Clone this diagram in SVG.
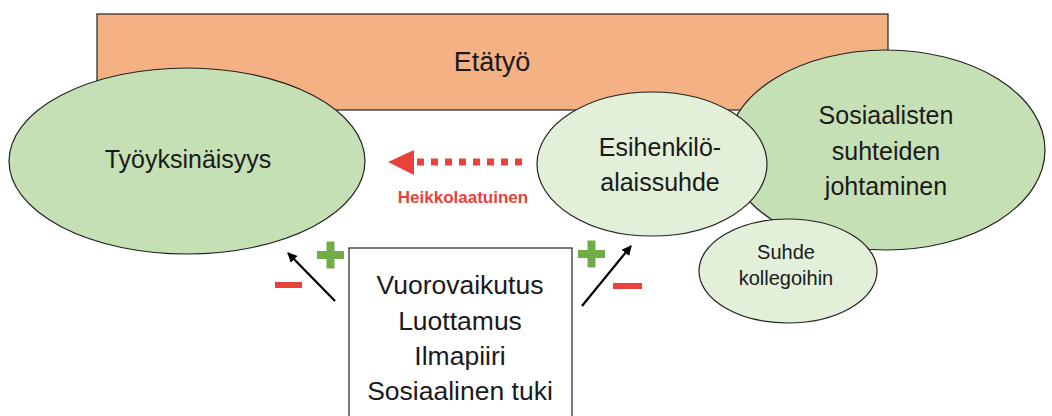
<svg xmlns="http://www.w3.org/2000/svg" width="1052" height="416" viewBox="0 0 1052 416">
<defs>
<style>
.t{font-family:"Liberation Sans",Arial,sans-serif;fill:#1a1a1a;text-anchor:middle;dominant-baseline:central}
.sh{stroke:#222;stroke-width:1.2}
.g1{fill:#c5e0b4}
.g2{fill:#e2f0d9}
.plus{stroke:#70ad47;stroke-width:8}
.minus{stroke:#e8433a;stroke-width:6}
</style>
<marker id="ah" viewBox="0 0 10 10" refX="9" refY="5" markerWidth="4.5" markerHeight="4.5" orient="auto">
<path d="M0,0 L10,5 L0,10 z" fill="#000"/>
</marker>
</defs>
<rect width="1052" height="416" fill="#fff"/>
<g id="etatyo">
<rect x="97" y="14" width="791" height="96" fill="#f4b183" class="sh"/>
<text class="t" x="492" y="62" font-size="27">Etätyö</text>
</g>
<g id="tyoyksinaisyys">
<ellipse cx="187" cy="161" rx="178" ry="93" class="g1 sh"/>
<text class="t" x="188" y="159" font-size="25">Työyksinäisyys</text>
</g>
<g id="sosiaalisten">
<ellipse cx="886" cy="150" rx="159" ry="100" class="g1 sh"/>
<text class="t" x="886" y="115" font-size="25">Sosiaalisten</text>
<text class="t" x="886" y="151" font-size="25">suhteiden</text>
<text class="t" x="886" y="186" font-size="25">johtaminen</text>
</g>
<g id="esihenkilo">
<ellipse cx="652" cy="164" rx="115" ry="72" class="g2 sh"/>
<text class="t" x="660" y="147" font-size="25">Esihenkilö-</text>
<text class="t" x="660" y="182" font-size="25">alaissuhde</text>
</g>
<g id="kollegat">
<ellipse cx="788" cy="271" rx="89" ry="52" class="g2 sh"/>
<text class="t" x="786" y="252" font-size="20">Suhde</text>
<text class="t" x="786" y="278" font-size="20">kollegoihin</text>
</g>
<g id="tekijat">
<rect x="349" y="248" width="223" height="180" fill="#fff" class="sh"/>
<text class="t" x="460" y="285" font-size="26.5">Vuorovaikutus</text>
<text class="t" x="460" y="321" font-size="26.5">Luottamus</text>
<text class="t" x="460" y="356" font-size="26.5">Ilmapiiri</text>
<text class="t" x="460" y="391" font-size="26.5">Sosiaalinen tuki</text>
</g>
<g id="connectors">
<line x1="522" y1="162" x2="412" y2="162" stroke="#e8433a" stroke-width="7" stroke-dasharray="7 7"/>
<path d="M388,162 L414,150 L414,175 z" fill="#e8433a"/>
<text x="463" y="197" font-family="Liberation Sans,Arial,sans-serif" font-weight="bold" font-size="17" fill="#e8433a" text-anchor="middle" dominant-baseline="central">Heikkolaatuinen</text>
<line x1="335" y1="301" x2="288" y2="253" stroke="#000" stroke-width="2.2" marker-end="url(#ah)"/>
<line x1="582" y1="306" x2="631" y2="246" stroke="#000" stroke-width="2.2" marker-end="url(#ah)"/>
<path d="M317,255 H344 M330.5,241.5 V268.5" class="plus"/>
<path d="M578,254 H605 M591.5,240.5 V267.5" class="plus"/>
<path d="M275,285 H302" class="minus"/>
<path d="M613,286 H642" class="minus"/>
</g>
</svg>
